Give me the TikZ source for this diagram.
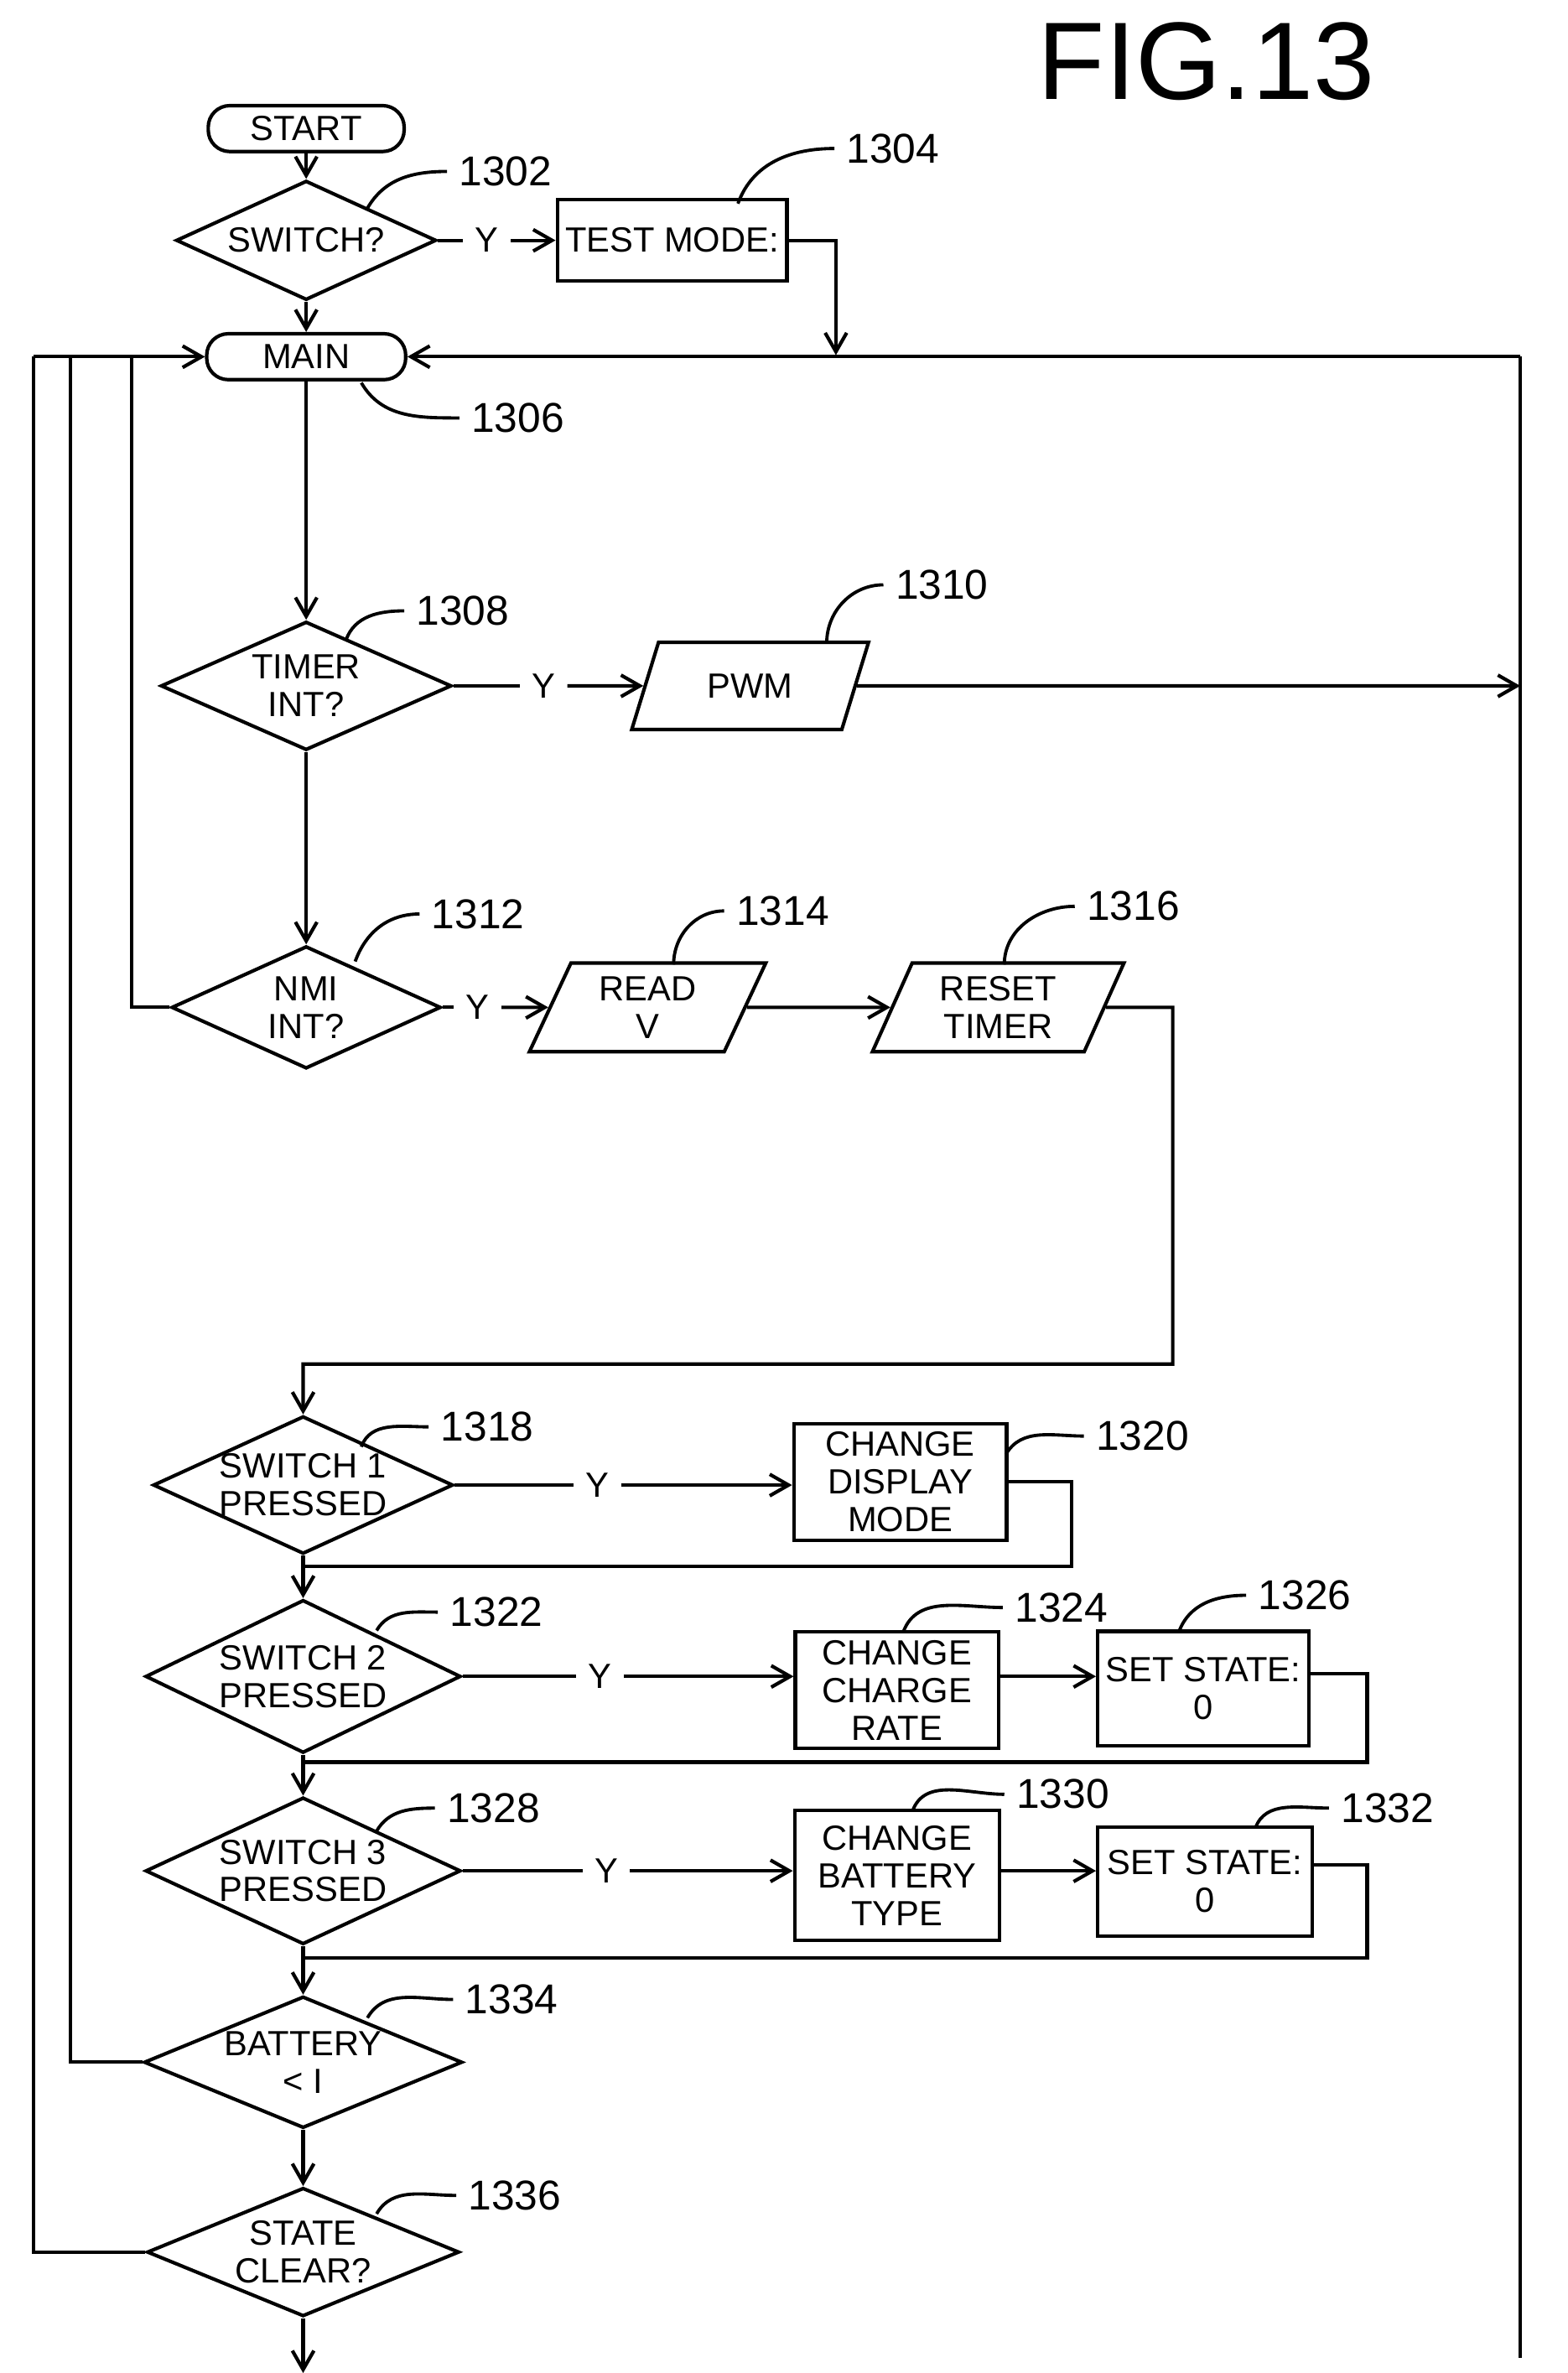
\documentclass[tikz,border=0pt]{standalone}
\usepackage{fontspec}
\setmainfont{Liberation Sans}
\usetikzlibrary{shapes.geometric,arrows.meta}
\tikzset{
  flow/.style={line width=1.3pt, -{Straight Barb[length=7pt,width=8pt]}},
  line/.style={line width=1.3pt},
  term/.style={draw, line width=1.3pt, rounded corners=8pt, minimum width=2.6cm, minimum height=0.6cm, inner sep=0pt},
  box/.style={draw, line width=1.3pt, align=center, inner sep=0pt},
  dia/.style={draw, diamond, line width=1.3pt, inner sep=0pt},
  para/.style={draw, trapezium, trapezium left angle=68, trapezium right angle=112, line width=1.3pt, inner sep=2pt, align=center, trapezium stretches=true},
  ref/.style={font=\fontsize{15.5}{16}\selectfont},
  lead/.style={line width=1.2pt},
}
\begin{document}
\fontsize{13}{14}\selectfont
\begin{tikzpicture}[x=0.02cm,y=-0.02cm]
\useasboundingbox (0,0) rectangle (1024,1550);
\node[font=\fontsize{41}{41}\selectfont] (fig) at (788,40) {FIG.13};

% top of chart
\node[term, minimum width=2.56cm] (start) at (200,84) {START};
\node[dia, minimum width=3.4cm, minimum height=1.56cm, label={center:SWITCH?}] (sw) at (200,157) {};
\node[box, minimum width=3cm, minimum height=1.06cm] (test) at (439,157) {TEST MODE:};
\node[term] (main) at (200,233) {MAIN};
\node (y1) at (318,157) {Y};
\draw[flow] (start) -- (sw);
\draw[line] (sw) -- (y1);
\draw[flow] (y1) -- (test);
\coordinate (t1) at (546,157);
\coordinate (t2) at (546,232);
\draw[flow] (test.east) -- (t1) -- (t2);
\draw[flow] (sw) -- (main);

% outer loops
\coordinate (r0) at (993,233);
\coordinate (r1) at (993,1540);
\draw[line] (r0) -- (r1);
\draw[flow] (r0) -- (main.east);

\node[dia, minimum width=3.8cm, minimum height=1.68cm, label={[align=center]center:TIMER\\INT?}] (tmr) at (200,448) {};
\draw[flow] (main) -- (tmr);
\node (y2) at (355,448) {Y};
\node[para, minimum width=3.1cm, minimum height=1.14cm] (pwm) at (490,448) {PWM};
\draw[line] (tmr) -- (y2);
\draw[flow] (y2) -- (pwm);
\coordinate (r2) at (993,448);
\draw[flow] (pwm) -- (r2);

\node[dia, minimum width=3.52cm, minimum height=1.6cm, label={[align=center]center:NMI\\INT?}] (nmi) at (200,658) {};
\draw[flow] (tmr) -- (nmi);
\node (y3) at (312,658) {Y};
\node[para, minimum width=3.1cm, minimum height=1.16cm] (readv) at (423,658) {READ\\V};
\node[para, minimum width=3.3cm, minimum height=1.16cm] (rst) at (652,658) {RESET\\TIMER};
\draw[line] (nmi) -- (y3);
\draw[flow] (y3) -- (readv);
\draw[flow] (readv) -- (rst);

% switch loop
\node[dia, minimum width=3.92cm, minimum height=1.8cm, label={[align=center]center:SWITCH 1\\PRESSED}] (sw1) at (198,970) {};
\coordinate (a1) at (766,658);
\coordinate (a2) at (766,891);
\coordinate (a3) at (198,891);
\draw[flow] (rst.east) -- (a1) -- (a2) -- (a3) -- (sw1.north);
\node (y4) at (390,970) {Y};
\node[box, minimum width=2.78cm, minimum height=1.52cm] (disp) at (588,968) {CHANGE\\DISPLAY\\MODE};
\draw[line] (sw1) -- (y4);
\draw[flow] (y4) -- (disp.west |- y4);

\node[dia, minimum width=4.12cm, minimum height=2cm, label={[align=center]center:SWITCH 2\\PRESSED}] (sw2) at (198,1095) {};
\coordinate (b1) at (700,968);
\coordinate (b2) at (700,1023);
\coordinate (b3) at (198,1023);
\draw[line] (disp.east) -- (b1) -- (b2) -- (b3);
\draw[flow] (sw1) -- (sw2);
\node (y5) at (392,1095) {Y};
\node[box, minimum width=2.66cm, minimum height=1.52cm] (rate) at (586,1104) {CHANGE\\CHARGE\\RATE};
\node[box, minimum width=2.76cm, minimum height=1.5cm] (st2) at (786,1103) {SET STATE:\\0};
\draw[line] (sw2) -- (y5);
\draw[flow] (y5) -- (rate.west |- y5);
\draw[flow] (rate.east |- y5) -- (st2.west |- y5);

\node[dia, minimum width=4.12cm, minimum height=1.92cm, label={[align=center]center:SWITCH 3\\PRESSED}] (sw3) at (198,1222) {};
\coordinate (c1) at (893,1093);
\coordinate (c2) at (893,1151);
\coordinate (c3) at (198,1151);
\draw[line] (st2.east |- c1) -- (c1) -- (c2) -- (c3);
\draw[flow] (sw2) -- (sw3);
\node (y6) at (396,1222) {Y};
\node[box, minimum width=2.68cm, minimum height=1.7cm] (btype) at (586,1225) {CHANGE\\BATTERY\\TYPE};
\node[box, minimum width=2.8cm, minimum height=1.42cm] (st3) at (787,1229) {SET STATE:\\0};
\draw[line] (sw3) -- (y6);
\draw[flow] (y6) -- (btype.west |- y6);
\draw[flow] (btype.east |- y6) -- (st3.west |- y6);

\node[dia, minimum width=4.16cm, minimum height=1.72cm, label={[align=center]center:BATTERY\\< I}] (bat) at (198,1347) {};
\coordinate (d1) at (893,1218);
\coordinate (d2) at (893,1279);
\coordinate (d3) at (198,1279);
\draw[line] (st3.east |- d1) -- (d1) -- (d2) -- (d3);
\draw[flow] (sw3) -- (bat);

\node[dia, minimum width=4.08cm, minimum height=1.68cm, label={[align=center]center:STATE\\CLEAR?}] (clr) at (198,1471) {};
\draw[flow] (bat) -- (clr);
\coordinate (e1) at (198,1550);
\draw[flow] (clr) -- (e1);

% return lines to MAIN
\coordinate (l1) at (86,658);
\coordinate (l2) at (86,233);
\draw[line] (nmi.west) -- (l1) -- (l2);
\coordinate (m1) at (46,1347);
\coordinate (m2) at (46,233);
\draw[line] (bat.west) -- (m1) -- (m2);
\coordinate (n1) at (22,1471);
\coordinate (n2) at (22,233);
\draw[line] (clr.west) -- (n1) -- (n2);
\draw[flow] (n2) -- (main.west);

% reference numerals
\node[ref, anchor=west] (n1302) at (292,112) {1302};
\node[ref, anchor=west] (n1304) at (545,97) {1304};
\node[ref, anchor=west] (n1306) at (300,273) {1306};
\node[ref, anchor=west] (n1308) at (264,399) {1308};
\node[ref, anchor=west] (n1310) at (577,382) {1310};
\node[ref, anchor=west] (n1312) at (274,597) {1312};
\node[ref, anchor=west] (n1314) at (473,595) {1314};
\node[ref, anchor=west] (n1316) at (702,592) {1316};
\node[ref, anchor=west] (n1318) at (280,932) {1318};
\node[ref, anchor=west] (n1320) at (708,938) {1320};
\node[ref, anchor=west] (n1322) at (286,1053) {1322};
\node[ref, anchor=west] (n1324) at (655,1050) {1324};
\node[ref, anchor=west] (n1326) at (814,1042) {1326};
\node[ref, anchor=west] (n1328) at (284,1181) {1328};
\node[ref, anchor=west] (n1330) at (656,1172) {1330};
\node[ref, anchor=west] (n1332) at (868,1181) {1332};
\node[ref, anchor=west] (n1334) at (296,1306) {1334};
\node[ref, anchor=west] (n1336) at (298,1434) {1336};
\draw[lead] (240,136) to[out=60,in=180] (n1302.west);
\draw[lead] (482,133) to[out=70,in=180] (n1304.west);
\draw[lead] (236,250) to[out=-60,in=180] (n1306.west);
\draw[lead] (226,418) to[out=70,in=180] (n1308.west);
\draw[lead] (540,420) to[out=90,in=180] (n1310.west);
\draw[lead] (232,628) to[out=70,in=180] (n1312.west);
\draw[lead] (440,630) to[out=90,in=180] (n1314.west);
\draw[lead] (656,630) to[out=90,in=180] (n1316.west);
\draw[lead] (236,945) to[out=70,in=180] (n1318.west);
\draw[lead] (657,950) to[out=60,in=180] (n1320.west);
\draw[lead] (246,1065) to[out=60,in=180] (n1322.west);
\draw[lead] (590,1066) to[out=70,in=180] (n1324.west);
\draw[lead] (770,1066) to[out=70,in=180] (n1326.west);
\draw[lead] (246,1196) to[out=60,in=180] (n1328.west);
\draw[lead] (596,1183) to[out=70,in=180] (n1330.west);
\draw[lead] (820,1194) to[out=70,in=180] (n1332.west);
\draw[lead] (240,1318) to[out=60,in=180] (n1334.west);
\draw[lead] (246,1446) to[out=60,in=180] (n1336.west);
\end{tikzpicture}
\end{document}
